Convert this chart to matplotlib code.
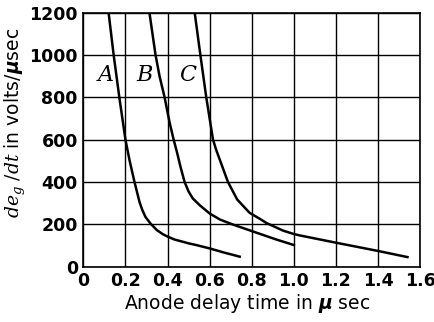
import numpy as np
import matplotlib
matplotlib.use("Agg")
from matplotlib import pyplot as plt

plt.rcParams["mathtext.fontset"] = "custom"
plt.rcParams["mathtext.it"] = "DejaVu Serif:italic"
plt.rcParams["mathtext.rm"] = "DejaVu Serif"
plt.rcParams["mathtext.bf"] = "DejaVu Sans:bold:italic"

# curve data (x in microseconds, y in volts/microsecond)
a_x = [0.12, 0.144, 0.171, 0.20, 0.22, 0.243, 0.267, 0.28, 0.295, 0.322,
       0.35, 0.378, 0.40, 0.433, 0.50, 0.536, 0.60, 0.67, 0.743]
a_y = [1200, 1000, 800, 600, 500, 400, 305, 268, 235, 200,
       172, 153, 142, 128, 110, 102, 86, 66, 47]

b_x = [0.314, 0.343, 0.362, 0.386, 0.41, 0.429, 0.445, 0.462, 0.481, 0.50,
       0.52, 0.553, 0.60, 0.65, 0.71, 0.80, 0.917, 1.00]
b_y = [1200, 1000, 900, 800, 680, 600, 540, 470, 400, 355,
       322, 290, 251, 222, 199, 168, 128, 102]

c_x = [0.529, 0.556, 0.584, 0.60, 0.616, 0.631, 0.687, 0.731, 0.79, 0.838,
       0.87, 0.949, 1.00, 1.03, 1.20, 1.40, 1.54]
c_y = [1200, 1000, 800, 700, 600, 552, 400, 317, 254, 226,
       206, 170, 154, 147, 113, 74, 45]

labels = ["A", "B", "C"]
label_x = [0.105, 0.29, 0.495]
label_y = [905, 905, 905]

x_ticks = [0, 0.2, 0.4, 0.6, 0.8, 1.0, 1.2, 1.4, 1.6]
x_tick_labels = ["0", "0.2", "0.4", "0.6", "0.8", "1.0", "1.2", "1.4", "1.6"]
y_ticks = [0, 200, 400, 600, 800, 1000, 1200]

fig = plt.figure(figsize=(4.34, 3.22), dpi=100)
ax = fig.add_axes([0.192, 0.172, 0.776, 0.789])

for xs, ys in [(a_x, a_y), (b_x, b_y), (c_x, c_y)]:
    ax.plot(xs, ys, color="black", lw=1.8, solid_joinstyle="round")

for t, lx, ly in zip(labels, label_x, label_y):
    ax.text(lx, ly, t, fontsize=16, fontstyle="italic", family="DejaVu Serif",
            ha="center", va="center")

ax.set_xlim(0, 1.6)
ax.set_ylim(0, 1200)
ax.set_xticks(x_ticks)
ax.set_xticklabels(x_tick_labels)
ax.set_yticks(y_ticks)
ax.grid(True, color="black", lw=1.0)
ax.tick_params(length=0, labelsize=12.5, pad=4)
for lab in ax.get_xticklabels() + ax.get_yticklabels():
    lab.set_fontweight("bold")
for s in ax.spines.values():
    s.set_linewidth(1.2)

ax.set_xlabel(r"Anode delay time in $\mathbf{\mu}$ sec", fontsize=13.5)
ax.set_ylabel(r"$de_g\ /dt$ in volts/$\mathbf{\mu}$sec", fontsize=13.5)
ax.yaxis.set_label_coords(-0.165, 0.565)
ax.xaxis.set_label_coords(0.485, -0.1)
ax.xaxis.label.set_va("top")

fig.savefig("out.png", dpi=100)
